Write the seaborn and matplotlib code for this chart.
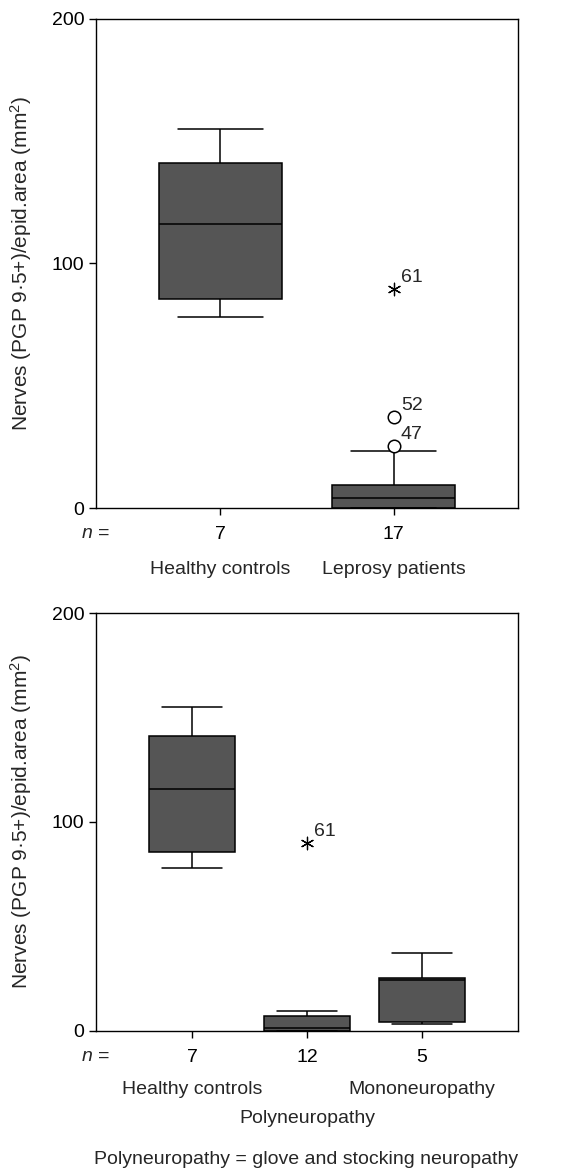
import numpy as np
import pandas as pd
import matplotlib
matplotlib.use("Agg")
import matplotlib.pyplot as plt
import seaborn as sns

# values (nerve density per epidermal area)
healthy = [78, 84, 87, 116, 138, 144, 155]
leprosy = [0, 0, 0, 0, 0, 1, 2, 3, 4, 5, 6, 8, 9.4, 23.2, 25.4, 37.4, 89.6]
poly = [0, 0, 0, 0, 0.5, 1, 1.6, 3, 7, 8.2, 9.6, 90]
mono = [3.5, 4.2, 24.4, 25.5, 37.5]

top_groups = ["Healthy controls", "Leprosy patients"]
bottom_groups = ["Healthy controls", "Polyneuropathy", "Mononeuropathy"]

# outliers flagged with case numbers (circle = outlier, star = extreme)
top_out_group = ["Leprosy patients", "Leprosy patients", "Leprosy patients"]
top_out_value = [89.6, 37.4, 25.4]
top_out_case = ["61", "52", "47"]
top_out_kind = ["extreme", "outlier", "outlier"]

bottom_out_group = ["Polyneuropathy"]
bottom_out_value = [90]
bottom_out_case = ["61"]
bottom_out_kind = ["extreme"]

ylabel = "Nerves (PGP 9·5+)/epid.area (mm$^2$)"
footnote = "Polyneuropathy = glove and stocking neuropathy"

sns.set_style("ticks")
plt.rcParams["font.family"] = ["Liberation Sans", "DejaVu Sans"]
plt.rcParams["mathtext.fontset"] = "custom"
plt.rcParams["mathtext.rm"] = "Liberation Sans"
plt.rcParams["mathtext.it"] = "Liberation Sans:italic"

BOX = "#555555"
FS = 14


def long_df(groups, arrays):
    return pd.DataFrame({
        "group": np.concatenate([[g] * len(a) for g, a in zip(groups, arrays)]),
        "value": np.concatenate([np.asarray(a, float) for a in arrays]),
    })


def draw_panel(ax, groups, arrays, out_g, out_v, out_c, out_k, width, capw, xlim):
    df = long_df(groups, arrays)
    sns.boxplot(data=df, x="group", y="value", order=groups, color=BOX,
                saturation=1, width=width, linecolor="black", linewidth=1.1,
                showfliers=False, capwidths=capw, ax=ax)
    out = pd.DataFrame({"group": out_g, "value": out_v, "case": out_c, "kind": out_k})
    circ = out[out["kind"] == "outlier"]
    star = out[out["kind"] == "extreme"]
    if len(circ):
        sns.stripplot(data=circ, x="group", y="value", order=groups, jitter=False,
                      marker="o", color="white", edgecolor="black", linewidth=1.1,
                      size=9, ax=ax)
    if len(star):
        sns.stripplot(data=star, x="group", y="value", order=groups, jitter=False,
                      marker=(6, 2, 0), color="black", linewidth=0.9, size=9, ax=ax)
    for _, r in out.iterrows():
        ax.annotate(r["case"], (groups.index(r["group"]), r["value"]),
                    xytext=(5, 2), textcoords="offset points",
                    ha="left", va="bottom", fontsize=FS)

    ax.set_ylim(0, 200)
    ax.set_yticks([0, 100, 200])
    ax.set_xlim(*xlim)
    ax.set_xticks(range(len(groups)))
    ax.set_xticklabels([str(len(a)) for a in arrays])
    ax.tick_params(axis="both", direction="out", length=5, width=1,
                   labelsize=FS, colors="black")
    ax.tick_params(axis="x", pad=8)
    for s in ax.spines.values():
        s.set_visible(True)
        s.set_color("black")
        s.set_linewidth(1)
    ax.set_xlabel("")
    ax.set_ylabel(ylabel, fontsize=15)
    ax.yaxis.set_label_coords(-0.147, 0.5)


fig = plt.figure(figsize=(5.62, 11.71), dpi=100)
ax1 = fig.add_axes([0.171, 0.566, 0.751, 0.418])
ax2 = fig.add_axes([0.171, 0.1196, 0.751, 0.3569])

draw_panel(ax1, top_groups, [healthy, leprosy], top_out_group, top_out_value,
           top_out_case, top_out_kind, 0.71, 0.49, (-0.717, 1.717))
draw_panel(ax2, bottom_groups, [healthy, poly, mono], bottom_out_group,
           bottom_out_value, bottom_out_case, bottom_out_kind, 0.75, 0.52,
           (-0.835, 2.835))

# n = row and group names under the axes
ax1.text(0.033, -0.052, "$n$ =", transform=ax1.transAxes, ha="right", va="center", fontsize=FS)
ax2.text(0.033, -0.062, "$n$ =", transform=ax2.transAxes, ha="right", va="center", fontsize=FS)

tr1 = matplotlib.transforms.blended_transform_factory(ax1.transData, ax1.transAxes)
for i, g in enumerate(top_groups):
    ax1.text(i, -0.125, g, transform=tr1, ha="center", va="center", fontsize=FS)

tr2 = matplotlib.transforms.blended_transform_factory(ax2.transData, ax2.transAxes)
for i, g in enumerate(bottom_groups):
    y = -0.21 if i == 1 else -0.139
    ax2.text(i, y, g, transform=tr2, ha="center", va="center", fontsize=FS)

fig.text(0.545, 1 - 1160 / 1171, footnote, ha="center", va="center", fontsize=FS)

fig.savefig("out.png", dpi=100)
